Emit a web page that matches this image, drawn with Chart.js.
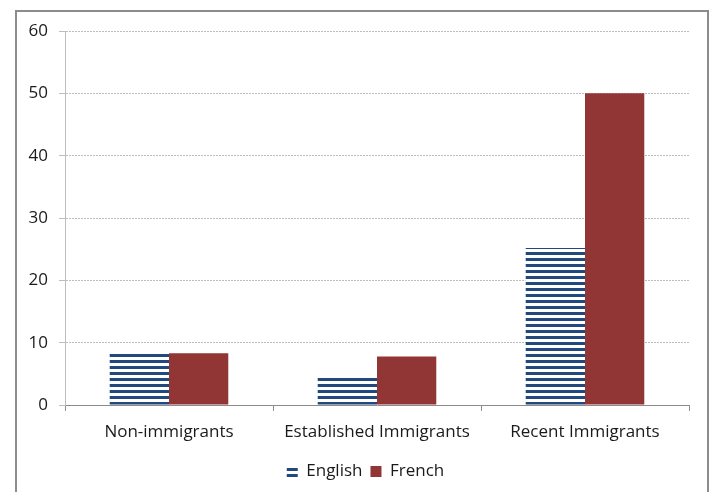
<!DOCTYPE html>
<html>
<head>
<meta charset="utf-8">
<script src="https://cdn.jsdelivr.net/npm/chart.js@4"></script>
<style>
  html, body { margin: 0; padding: 0; background: #fff; }
  #wrap { position: relative; width: 712px; height: 492px; }
  #frame { position: absolute; left: 15px; top: 10px; width: 694px; height: 490px; border: 2px solid #8c8c8c; box-sizing: border-box; }
  canvas { position: absolute; left: 0; top: 0; }
</style>
</head>
<body>
<div id="wrap">
  <div id="frame"></div>
  <canvas id="c" width="712" height="492"></canvas>
</div>
<script>
const categories = ["Non-immigrants", "Established Immigrants", "Recent Immigrants"];
const english = [8.6, 4.5, 25.2];
const french = [8.3, 7.8, 50.0];
const seriesNames = ["English", "French"];

function stripes() {
  const p = document.createElement('canvas');
  p.width = 6; p.height = 6;
  const g = p.getContext('2d');
  g.fillStyle = '#ffffff';
  g.fillRect(0, 0, 6, 6);
  g.fillStyle = '#22497d';
  g.fillRect(0, 0, 6, 3);
  return document.getElementById('c').getContext('2d').createPattern(p, 'repeat');
}

const FONT = "'Open Sans', 'Noto Sans', sans-serif";

const shiftLegend = {
  id: 'shiftLegend',
  afterLayout(chart) {
    const lg = chart.legend;
    if (lg) { lg.left += 21; lg.right += 21; }
  }
};

new Chart(document.getElementById('c'), {
  type: 'bar',
  data: {
    labels: categories,
    datasets: [
      { label: seriesNames[0], data: english, backgroundColor: stripes(), borderWidth: 0 },
      { label: seriesNames[1], data: french, backgroundColor: '#913634', borderWidth: 0 }
    ]
  },
  plugins: [shiftLegend],
  options: {
    responsive: false,
    animation: false,
    layout: { padding: { top: 31, right: 23, bottom: 2, left: 0 } },
    datasets: { bar: { categoryPercentage: 0.57, barPercentage: 1.0 } },
    plugins: {
      legend: {
        position: 'bottom',
        labels: { boxWidth: 11, boxHeight: 11, color: '#1a1a1a', font: { family: FONT, size: 17 }, padding: 8 }
      },
      tooltip: { enabled: false }
    },
    scales: {
      x: {
        grid: { drawOnChartArea: false, drawTicks: true, tickLength: 6, color: '#8c8c8c', offset: true },
        border: { color: '#8c8c8c', width: 1 },
        ticks: { color: '#1a1a1a', font: { family: FONT, size: 17 }, padding: 11 },
        afterFit: s => { s.height = 50; }
      },
      y: {
        min: 0, max: 60,
        ticks: { stepSize: 10, color: '#1a1a1a', font: { family: FONT, size: 17 }, padding: 11 },
        grid: { color: '#bdbdbd', tickLength: 6, drawTicks: true },
        border: { color: '#bdbdbd', dash: [2, 1] },
        afterFit: s => { s.width = 65; }
      }
    }
  }
});
</script>
</body>
</html>
